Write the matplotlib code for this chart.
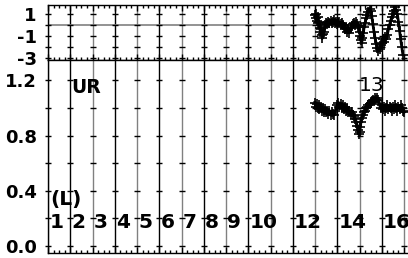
import numpy as np
import matplotlib
matplotlib.use('Agg')
import matplotlib.pyplot as plt
from matplotlib.ticker import MultipleLocator

plt.rcParams['font.family'] = 'DejaVu Sans'
plt.rcParams['font.weight'] = 'bold'

# segment labels along the bottom panel
seg_pos = [0, 1, 2, 3, 4, 5, 6, 7, 8, 9, 11, 13, 15]
seg_text = ['1', '2', '3', '4', '5', '6', '7', '8', '9', '10', '12', '14', '16']

# upper panel (residual-like trace)
top_x = [12.00, 12.03, 12.06, 12.09, 12.12, 12.15, 12.18, 12.21, 12.24, 12.27,
         12.30, 12.33, 12.36, 12.40, 12.43, 12.46, 12.50, 12.55, 12.60, 12.65,
         12.70, 12.75, 12.80, 12.85, 12.90, 12.95, 13.00, 13.05, 13.10, 13.15,
         13.20, 13.25, 13.30, 13.35, 13.40, 13.45, 13.50, 13.55, 13.60, 13.65,
         13.70, 13.75, 13.80, 13.85, 13.90, 13.95, 14.00, 14.03, 14.06, 14.10,
         14.13, 14.17, 14.21, 14.25, 14.30, 14.35, 14.40, 14.45, 14.50, 14.55,
         14.60, 14.65, 14.70, 14.75, 14.80, 14.85, 14.90, 14.95, 15.00, 15.05,
         15.10, 15.15, 15.20, 15.25, 15.30, 15.35, 15.40, 15.45, 15.50, 15.55,
         15.60, 15.65, 15.70, 15.75, 15.80, 15.85, 15.90, 15.95]
top_y = [0.9, 0.6, 1.0, 0.4, 0.7, 0.2, 0.3, -0.3, -0.6, -0.4,
         -0.9, -1.2, -0.8, -0.6, -0.2, 0.0, 0.2, 0.1, 0.3, 0.2,
         0.4, 0.2, 0.3, 0.45, 0.2, 0.3, 0.1, 0.2, 0.3, 0.1,
         0.2, 0.0, -0.2, -0.4, -0.3, -0.6, -0.4, -0.7, -0.3, -0.1,
         0.1, 0.2, 0.0, 0.3, 0.1, -0.2, -0.6, -1.0, -1.4, -1.6,
         -1.2, -0.7, -0.2, 0.2, 0.6, 0.9, 1.2, 1.5, 1.3, 0.8,
         0.1, -0.6, -1.2, -1.7, -2.1, -2.4, -2.2, -1.8, -1.6, -1.3,
         -1.5, -1.1, -1.3, -0.9, -0.4, 0.0, 0.4, 0.7, 1.0, 1.3,
         1.6, 1.4, 1.0, 0.3, -0.5, -1.3, -2.0, -2.7]

# lower panel (normalised flux)
bot_x = [12.00, 12.04, 12.08, 12.12, 12.16, 12.20, 12.25, 12.30, 12.35, 12.40,
         12.45, 12.50, 12.55, 12.60, 12.65, 12.70, 12.75, 12.80, 12.85,
         13.00, 13.05, 13.10, 13.15, 13.20, 13.25, 13.30, 13.35, 13.40, 13.45,
         13.50, 13.55, 13.60, 13.65, 13.70, 13.75, 13.80, 13.85, 13.90, 13.95,
         13.98, 14.00, 14.03, 14.06, 14.10, 14.15, 14.20, 14.25, 14.30, 14.35,
         14.40, 14.45, 14.50, 14.55, 14.60, 14.65, 14.70, 14.75, 14.80, 14.85,
         14.95, 15.00, 15.05, 15.10, 15.15, 15.20, 15.25, 15.30, 15.35, 15.40,
         15.45, 15.50, 15.55, 15.60, 15.65, 15.70, 15.75, 15.80, 15.85, 15.90,
         15.95, 16.00]
bot_y = [1.04, 1.01, 1.03, 1.00, 1.02, 0.99, 1.01, 0.98, 1.00, 0.97,
         0.99, 0.97, 0.98, 0.96, 0.98, 0.95, 0.97, 0.96, 0.95,
         1.02, 1.04, 1.01, 1.03, 1.00, 1.02, 0.99, 1.01, 0.98, 1.00,
         0.97, 0.98, 0.96, 0.97, 0.95, 0.94, 0.92, 0.90, 0.87, 0.84,
         0.81, 0.83, 0.86, 0.90, 0.93, 0.95, 0.97, 0.98, 1.00, 1.01,
         1.02, 1.03, 1.04, 1.05, 1.06, 1.05, 1.07, 1.06, 1.07, 1.06,
         1.00, 1.02, 0.99, 1.01, 0.98, 1.00, 1.02, 0.99, 1.01, 1.00,
         0.98, 1.01, 0.99, 1.02, 1.00, 0.98, 1.01, 0.99, 1.02, 1.00,
         0.98, 0.97]

top_ticks = [-3, -2, -1, 0, 1]
top_labels = [-3, -1, 1]
bot_ticks = [0.0, 0.2, 0.4, 0.6, 0.8, 1.0, 1.2]
bot_labels = [0.0, 0.4, 0.8, 1.2]

W, H = 408, 258
fig = plt.figure(figsize=(W / 100, H / 100), dpi=100)
left = 48 / W
width = 362 / W
xmax = 362 / 22.25

ax1 = fig.add_axes([left, 1 - 60 / H, width, 55 / H])
ax2 = fig.add_axes([left, 1 - 253 / H, width, 193 / H])

gray = '#808080'
lines = range(0, 17)

for ax, ticks in ((ax1, top_ticks), (ax2, bot_ticks)):
    ax.set_xlim(0, xmax)
    for i in lines:
        ax.axvline(i, color='black' if i % 2 else gray, lw=1.0, zorder=1)
        ax.plot([i] * len(ticks), ticks, ls='none', marker='_', ms=5,
                mew=1.0, color='black', zorder=2, clip_on=False)
    ax.xaxis.set_major_locator(MultipleLocator(1))
    ax.xaxis.set_minor_locator(MultipleLocator(0.25))
    ax.tick_params(axis='x', which='major', direction='in', length=4, width=1,
                   top=True, labelbottom=False)
    ax.tick_params(axis='x', which='minor', direction='in', length=2.2, width=1,
                   top=True)
    ax.tick_params(axis='y', which='both', length=0, pad=8, labelsize=13)
    for s in ax.spines.values():
        s.set_linewidth(1.0)

ax1.set_ylim(-3.18, 1.82)
ax1.set_yticks(top_labels)
ax1.set_yticklabels([str(v) for v in top_labels])
ax1.axhline(0, color=gray, lw=1.2, zorder=1)
ax1.plot(top_x, top_y, color='black', lw=2.0, marker='+', ms=7, mew=1.2,
         zorder=3)

ax2.set_ylim(-0.05, 1.348)
ax2.set_yticks(bot_labels)
ax2.set_yticklabels(['%.1f' % v for v in bot_labels])
ax2.tick_params(axis='x', which='both', top=False)
ax2.plot(bot_x, bot_y, color='black', lw=2.2, marker='+', ms=7, mew=1.2,
         zorder=3)

for p, t in zip(seg_pos, seg_text):
    ax2.text(p + 0.06, 0.17, t, fontsize=14.5, fontweight='bold',
             ha='left', va='center')
ax2.text(0.08, 0.34, '(L)', fontsize=14.5, fontweight='bold',
         ha='left', va='center')
ax2.text(1.05, 1.15, 'UR', fontsize=13.5, fontweight='bold',
         ha='left', va='center')
ax2.text(13.95, 1.16, '13', fontsize=14.5, fontweight='normal',
         ha='left', va='center')

fig.savefig('out.png', dpi=100)
